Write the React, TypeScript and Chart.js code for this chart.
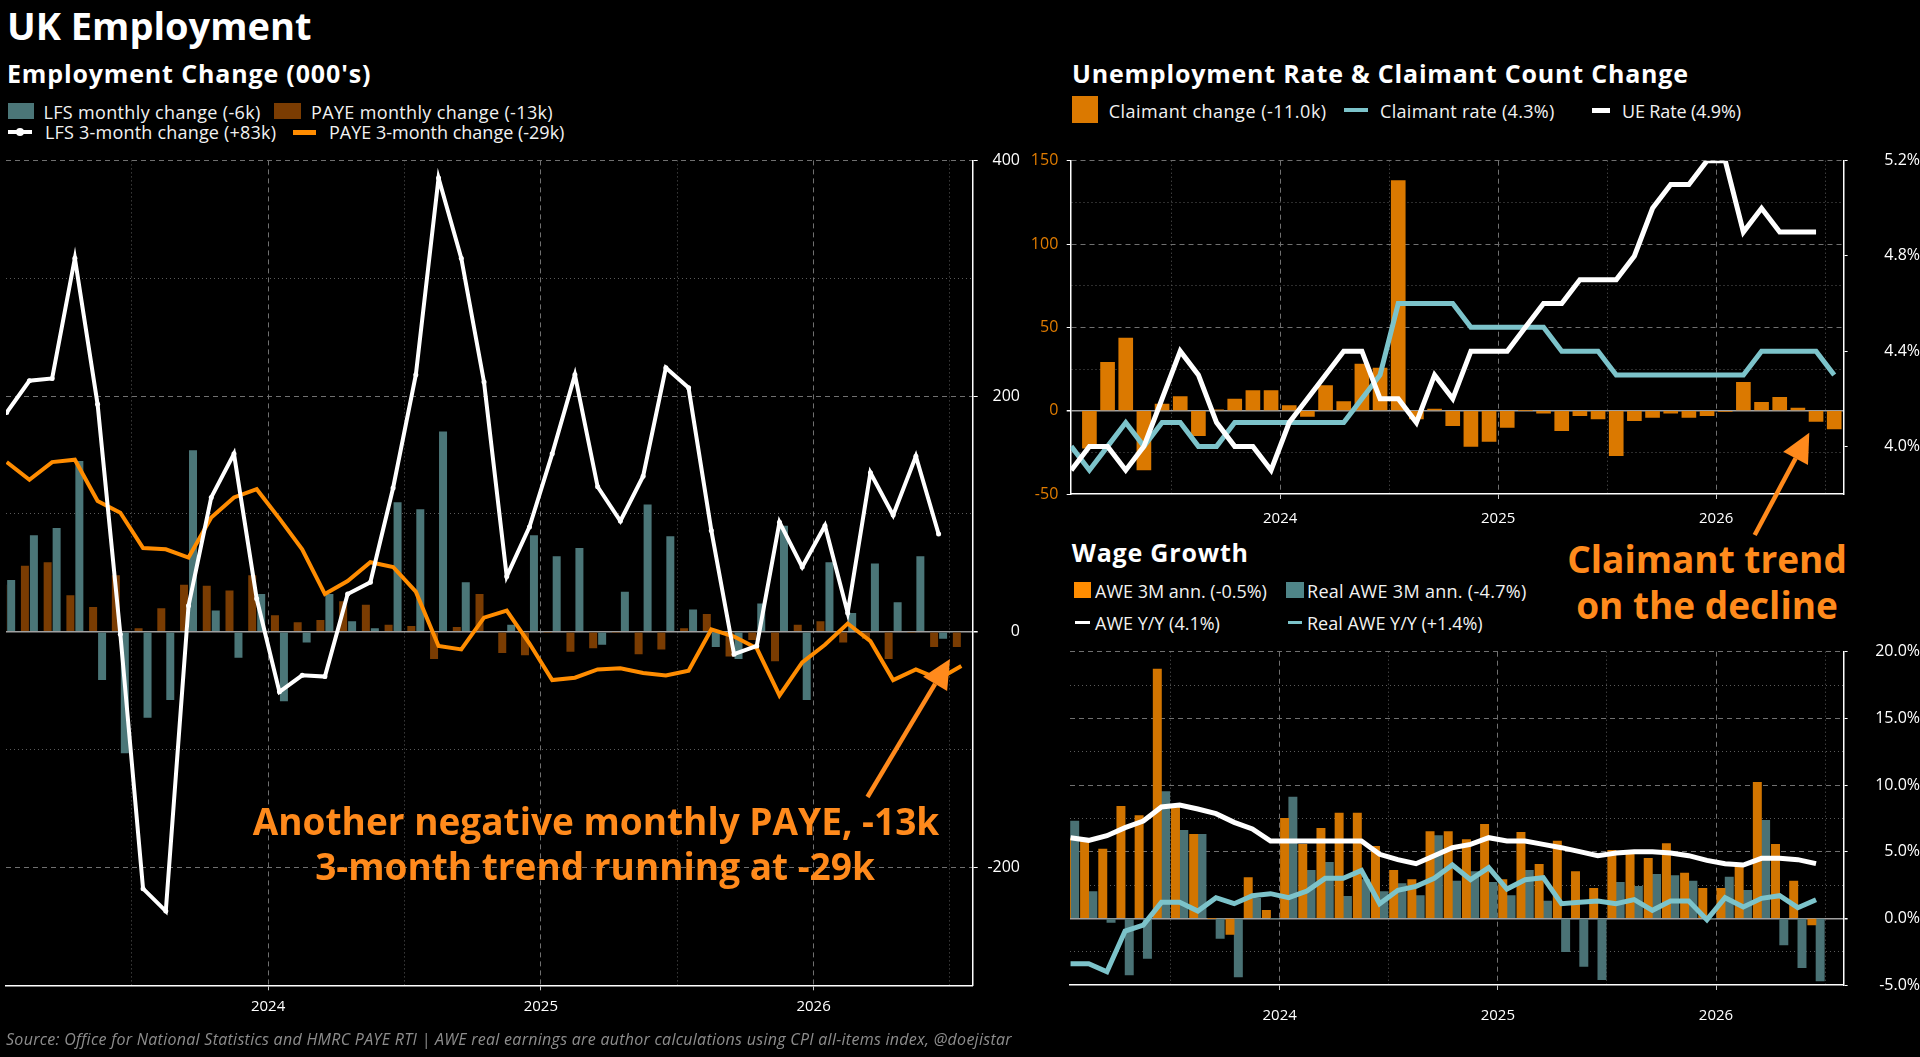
import { useEffect, useRef } from "react"
import { Chart, registerables } from "chart.js"

Chart.register(...registerables)

const FONT = "'Open Sans', 'DejaVu Sans', sans-serif"

// x values are months since 1 Jan 2023, each observation plotted mid-month
const FIRST_YEAR = 2023
const X_MIN = 0.47
const X_MAX = 43
const HALF_YEAR_TICKS = [6, 12, 18, 24, 30, 36, 42]

// Employment change (000's), Jan 2023 onwards
const lfsMonthly = [44, 82, 88, 145, -41, -103, -73, -58, 154, 18, -22, 32, -59, -9, 32, 9, 3, 110, 104, 170, 42, 0, 6, 82, 64, 71, -11, 34, 108, 81, 19, -13, -23, 24, 90, -58, 59, 16, 58, 25, 64, -6]
const payeMonthly = [40, 56, 59, 31, 21, 48, 3, 20, 40, 39, 35, 48, 14, 8, 10, 26, 23, 6, 5, -23, 4, 32, -18, -20, -1, -17, -14, -1, -19, -15, 3, 15, -21, -7, -25, 6, 9, -9, -6, -23, -1, -13, -13]
const lfs3m = [186, 213, 215, 317, 193, -2, -218, -237, 22, 114, 151, 28, -51, -37, -38, 32, 42, 122, 218, 385, 317, 212, 47, 89, 151, 218, 123, 94, 132, 224, 207, 86, -19, -12, 93, 55, 90, 16, 135, 99, 149, 83]
const paye3m = [144, 129, 144, 146, 111, 101, 71, 70, 63, 97, 114, 121, 96, 70, 32, 43, 59, 55, 34, -12, -15, 12, 18, -10, -41, -39, -32, -31, -35, -37, -33, 2, -4, -14, -54, -26, -11, 7, -8, -41, -32, -40, -29]

// Unemployment rate & claimant count
const claimantChange = [null, -22.5, 29, 43.5, -35.5, 4, 8.5, -15, 0.5, 7, 12, 12, 3, -3.5, 15, 5.5, 28, 25.5, 138, -5, 1, -9, -21.5, -18.5, -10, 0, -1.5, -12, -3, -5, -27, -6, -4, -1.5, -4, -3, -0.5, 17, 5, 8, 1.5, -6.5, -11]
const claimantRate = [4.0, 3.9, 4.0, 4.1, 4.0, 4.1, 4.1, 4.0, 4.0, 4.1, 4.1, 4.1, 4.1, 4.1, 4.1, 4.1, 4.2, 4.3, 4.6, 4.6, 4.6, 4.6, 4.5, 4.5, 4.5, 4.5, 4.5, 4.4, 4.4, 4.4, 4.3, 4.3, 4.3, 4.3, 4.3, 4.3, 4.3, 4.3, 4.4, 4.4, 4.4, 4.4, 4.3]
const ueRate = [3.9, 4.0, 4.0, 3.9, 4.0, 4.2, 4.4, 4.3, 4.1, 4.0, 4.0, 3.9, 4.1, 4.2, 4.3, 4.4, 4.4, 4.2, 4.2, 4.1, 4.3, 4.2, 4.4, 4.4, 4.4, 4.5, 4.6, 4.6, 4.7, 4.7, 4.7, 4.8, 5.0, 5.1, 5.1, 5.2, 5.2, 4.9, 5.0, 4.9, 4.9, 4.9]
const rateTicks = [4.0, 4.4, 4.8, 5.2]

// Wage growth (%)
const aweAnn = [6.0, 5.8, 5.2, 8.4, 7.7, 18.7, 8.4, 6.3, 0, -1.2, 3.05, 0.6, 7.5, 5.55, 6.75, 7.9, 7.9, 5.4, 3.6, 2.9, 6.5, 6.5, 5.9, 7.05, 2.9, 6.45, 4.05, 5.8, 3.5, 2.25, 5.1, 5.0, 4.5, 5.6, 3.4, 2.25, 2.25, 4.05, 10.2, 5.55, 2.8, -0.5]
const realAweAnn = [7.3, 2.0, -0.3, -4.25, -3.0, 9.5, 6.6, 6.3, -1.5, -4.4, 1.5, 0, 9.1, 3.6, 4.2, 1.65, 2.9, 2.0, 2.6, 1.7, 6.2, 2.8, 3.5, 2.7, 1.7, 3.6, 1.3, -2.5, -3.6, -4.6, 2.7, 2.4, 3.3, 3.2, 2.8, 0, 3.1, 2.1, 7.35, -2.0, -3.7, -4.7]
const aweYoY = [6.05, 5.85, 6.2, 6.8, 7.3, 8.35, 8.5, 8.2, 7.85, 7.2, 6.7, 5.8, 5.8, 5.8, 5.8, 5.8, 5.8, 4.8, 4.4, 4.1, 4.7, 5.3, 5.55, 6.05, 5.8, 5.8, 5.55, 5.3, 5.0, 4.7, 4.9, 5.0, 5.0, 4.9, 4.7, 4.35, 4.1, 4.0, 4.5, 4.5, 4.4, 4.1]
const realAweYoY = [-3.4, -3.4, -4.0, -0.95, -0.5, 1.2, 1.2, 0.55, 1.55, 1.1, 1.7, 1.85, 1.55, 2.05, 3.0, 3.0, 3.6, 1.1, 2.1, 2.4, 3.0, 4.0, 2.9, 3.8, 2.2, 2.9, 3.05, 1.1, 1.2, 1.3, 1.1, 1.4, 0.6, 1.3, 1.3, -0.1, 1.55, 0.85, 1.5, 1.7, 0.8, 1.4]

const GRID_MAJOR = "#707070"
const GRID_MINOR = "#5a5a5a"
const ZERO_LINE = "#a0a0a0"
const DASH = [5, 4]
const DOT = [1, 3]
const ORANGE_NOTE = "#ff8a1c"

const months = (vals: (number | null)[]) => vals.map((y, i) => ({ x: i + 0.5, y }))
const isMultiple = (v: number, m: number) => Math.abs(v / m - Math.round(v / m)) < 1e-6
const isYearStart = (c: any) => !!c.tick && c.tick.value % 12 === 0

function timeAxis(labelPadding: number, axisHeight: number) {
  return {
    type: "linear",
    min: X_MIN,
    max: X_MAX,
    offset: false,
    afterBuildTicks: (s: any) => {
      s.ticks = HALF_YEAR_TICKS.map((value) => ({ value }))
    },
    afterFit: (s: any) => {
      s.height = axisHeight
      s.paddingLeft = 0
      s.paddingRight = 0
    },
    ticks: {
      autoSkip: false,
      maxRotation: 0,
      minRotation: 0,
      padding: labelPadding,
      color: "#fff",
      font: { family: FONT, size: 15 },
      callback: (v: number) => (v % 12 === 0 ? String(FIRST_YEAR + v / 12) : ""),
    },
    grid: {
      offset: false,
      color: (c: any) => (isYearStart(c) ? GRID_MAJOR : GRID_MINOR),
      tickColor: (c: any) => (isYearStart(c) ? "#c8c8c8" : "transparent"),
      tickLength: 5,
    },
    border: { color: "#fff", width: 1.5, dash: (c: any) => (isYearStart(c) ? DASH : DOT) },
  }
}

// value axis that also owns the horizontal grid
function gridAxis(o: any) {
  const labelled = (c: any) => !!c.tick && isMultiple(c.tick.value, o.major)
  return {
    position: o.position,
    min: o.min,
    max: o.max,
    afterFit: (s: any) => {
      s.width = o.width
      s.paddingTop = 0
      s.paddingBottom = 0
    },
    ticks: {
      stepSize: o.step,
      padding: o.padding,
      crossAlign: o.crossAlign,
      color: o.labelColor,
      font: { family: FONT, size: 16 },
      callback: (v: number) => (isMultiple(v, o.major) ? o.format(v) : ""),
    },
    grid: {
      color: (c: any) => {
        const v = c.tick?.value
        if (v === 0) return ZERO_LINE
        if (v === o.min) return "transparent"
        return labelled(c) ? GRID_MAJOR : GRID_MINOR
      },
      lineWidth: (c: any) => (c.tick?.value === 0 ? 1.5 : 1),
      tickColor: (c: any) => (labelled(c) ? "#fff" : "transparent"),
      tickLength: o.tickLength,
    },
    border: {
      color: "#fff",
      width: 1.5,
      dash: (c: any) => (c.tick?.value === 0 ? [] : labelled(c) ? DASH : DOT),
    },
  }
}

const common = {
  animation: false,
  responsive: false,
  events: [],
  plugins: { legend: { display: false }, tooltip: { enabled: false } },
}

function employmentConfig(): any {
  return {
    type: "line",
    data: {
      datasets: [
        { type: "line", label: "LFS 3-month change (+83k)", data: months(lfs3m), borderColor: "#fff", backgroundColor: "#fff", borderWidth: 4, pointRadius: 2.5, pointBorderWidth: 0, order: 0 },
        { type: "line", label: "PAYE 3-month change (-29k)", data: months(paye3m), borderColor: "#ff8c00", borderWidth: 4, pointRadius: 0, order: 1 },
        { type: "bar", label: "PAYE monthly change (-13k)", data: months(payeMonthly), backgroundColor: "#7a3c02", categoryPercentage: 0.79, barPercentage: 0.89, order: 2 },
        { type: "bar", label: "LFS monthly change (-6k)", data: months(lfsMonthly), backgroundColor: "#4b7678", categoryPercentage: 0.79, barPercentage: 0.89, order: 3 },
      ],
    },
    options: {
      ...common,
      layout: { padding: { left: 6, top: 10.4, right: 0, bottom: 0 } },
      scales: {
        x: timeAxis(7, 34.7),
        y: gridAxis({ position: "right", min: -300, max: 400, step: 100, major: 200, width: 47.3, padding: 8, tickLength: 5, crossAlign: "far", labelColor: "#fff", format: (v: number) => String(v) }),
      },
    },
  }
}

function unemploymentConfig(): any {
  return {
    type: "line",
    data: {
      datasets: [
        { type: "line", label: "UE Rate (4.9%)", data: months(ueRate), yAxisID: "y1", borderColor: "#fff", borderWidth: 5, pointRadius: 0, order: 0 },
        { type: "line", label: "Claimant rate (4.3%)", data: months(claimantRate), yAxisID: "y1", borderColor: "#7cc3ca", borderWidth: 5, pointRadius: 0, order: 1 },
        { type: "bar", label: "Claimant change (-11.0k)", data: months(claimantChange), yAxisID: "y", backgroundColor: "#db7900", barThickness: 14, order: 2 },
      ],
    },
    options: {
      ...common,
      layout: { padding: { left: 0, top: 10.7, right: 0, bottom: 0 } },
      scales: {
        x: timeAxis(11, 36),
        y: gridAxis({ position: "left", min: -50, max: 150, step: 25, major: 50, width: 50.7, padding: 8.4, tickLength: 4, crossAlign: "near", labelColor: "#e07c00", format: (v: number) => String(v) }),
        y1: {
          position: "right",
          min: 3.8,
          max: 5.2,
          afterBuildTicks: (s: any) => {
            s.ticks = rateTicks.map((value) => ({ value }))
          },
          afterFit: (s: any) => {
            s.width = 76.7
            s.paddingTop = 0
            s.paddingBottom = 0
          },
          ticks: { padding: 17.4, crossAlign: "far", color: "#fff", font: { family: FONT, size: 16 }, callback: (v: number) => v.toFixed(1) + "%" },
          grid: { drawOnChartArea: false, tickColor: "#fff", tickLength: 4.3 },
          border: { color: "#fff", width: 1.5 },
        },
      },
    },
  }
}

function wageConfig(): any {
  return {
    type: "line",
    data: {
      datasets: [
        { type: "line", label: "AWE Y/Y (4.1%)", data: months(aweYoY), borderColor: "#fff", borderWidth: 5, pointRadius: 0, order: 0 },
        { type: "line", label: "Real AWE Y/Y (+1.4%)", data: months(realAweYoY), borderColor: "#7cc3ca", borderWidth: 5, pointRadius: 0, order: 1 },
        { type: "bar", label: "AWE 3M ann. (-0.5%)", data: months(aweAnn), backgroundColor: "#d27500", barThickness: 8.3, order: 2 },
        { type: "bar", label: "Real AWE 3M ann. (-4.7%)", data: months(realAweAnn), backgroundColor: "#4a7275", barThickness: 8.3, order: 3 },
      ],
    },
    options: {
      ...common,
      layout: { padding: { left: 50, top: 11.7, right: 0, bottom: 0 } },
      scales: {
        x: timeAxis(16.5, 45),
        y: gridAxis({ position: "right", min: -5, max: 20, step: 2.5, major: 5, width: 76.7, padding: 8.3, tickLength: 4.3, crossAlign: "far", labelColor: "#fff", format: (v: number) => v.toFixed(1) + "%" }),
      },
    },
  }
}

function ChartBox({ left, top, width, height, build }: any) {
  const ref = useRef<HTMLCanvasElement>(null)
  useEffect(() => {
    if (!ref.current) return
    const chart = new Chart(ref.current, build())
    return () => chart.destroy()
  }, [build])
  return <canvas ref={ref} width={width} height={height} style={{ position: "absolute", left, top, width, height }} />
}

// Open Sans: baseline sits 0.888em below the top of a line-height:1 box
const BASELINE = 0.888

function Label({ text, x, baseline, size, weight = 400, color = "#f2f2f2", center = false, italic = false, spacing = 0 }: any) {
  return (
    <div
      style={{
        position: "absolute",
        left: x,
        top: baseline - BASELINE * size,
        fontSize: size,
        lineHeight: `${size}px`,
        fontWeight: weight,
        fontStyle: italic ? "italic" : "normal",
        letterSpacing: spacing,
        color,
        whiteSpace: "nowrap",
        transform: center ? "translateX(-50%)" : undefined,
      }}
    >
      {text}
    </div>
  )
}

function Box({ x, y, w, h, color }: any) {
  return <div style={{ position: "absolute", left: x, top: y, width: w, height: h, background: color }} />
}

function LineKey({ x1, x2, y, thick, color, marker = false }: any) {
  return (
    <>
      <div style={{ position: "absolute", left: x1, top: y - thick / 2, width: x2 - x1, height: thick, background: color }} />
      {marker && <div style={{ position: "absolute", left: (x1 + x2) / 2 - 4, top: y - 4, width: 8, height: 8, borderRadius: 4, background: color }} />}
    </>
  )
}

function Arrow({ from, to }: any) {
  const dx = to[0] - from[0]
  const dy = to[1] - from[1]
  const len = Math.hypot(dx, dy)
  const ux = dx / len
  const uy = dy / len
  const headLen = 29
  const half = 14
  const bx = to[0] - ux * headLen
  const by = to[1] - uy * headLen
  const pts = `${to[0]},${to[1]} ${bx - uy * half},${by + ux * half} ${bx + uy * half},${by - ux * half}`
  return (
    <>
      <line x1={from[0]} y1={from[1]} x2={bx} y2={by} stroke={ORANGE_NOTE} strokeWidth={4.5} />
      <polygon points={pts} fill={ORANGE_NOTE} />
    </>
  )
}

export default function App() {
  useEffect(() => {
    document.body.style.margin = "0"
    document.body.style.background = "#000"
  }, [])

  return (
    <div style={{ position: "relative", width: 1920, height: 1057, background: "#000", overflow: "hidden", fontFamily: FONT }}>
      <ChartBox left={0} top={150} width={1020} height={870} build={employmentConfig} />
      <ChartBox left={1020} top={150} width={900} height={380} build={unemploymentConfig} />
      <ChartBox left={1020} top={640} width={900} height={390} build={wageConfig} />

      <Label text="UK Employment" x={7} baseline={40} size={38} weight={700} color="#fff" />

      <Label text="Employment Change (000's)" x={7} baseline={82.7} size={25} weight={700} color="#fff" spacing={0.85} />
      <Box x={7.6} y={102.7} w={26.5} h={16} color="#4b7678" />
      <Label text="LFS monthly change (-6k)" x={43.4} baseline={119} size={18} spacing={0.35} />
      <Box x={274} y={102.7} w={27} h={16} color="#7a3c02" />
      <Label text="PAYE monthly change (-13k)" x={311} baseline={119} size={18} spacing={0.35} />
      <LineKey x1={7.6} x2={31.6} y={132} thick={4} color="#fff" marker />
      <Label text="LFS 3-month change (+83k)" x={45} baseline={139} size={18} spacing={0.2} />
      <LineKey x1={293} x2={316} y={132} thick={5} color="#ff8c00" />
      <Label text="PAYE 3-month change (-29k)" x={329} baseline={139} size={18} />

      <Label text="Unemployment Rate & Claimant Count Change" x={1072} baseline={82.7} size={25} weight={700} color="#fff" spacing={0.8} />
      <Box x={1072} y={96} w={25.5} h={27} color="#db7900" />
      <Label text="Claimant change (-11.0k)" x={1108.7} baseline={118.3} size={18} spacing={0.5} />
      <LineKey x1={1344} x2={1368} y={110} thick={4} color="#7cc3ca" />
      <Label text="Claimant rate (4.3%)" x={1380} baseline={118.3} size={18} spacing={0.3} />
      <LineKey x1={1592} x2={1610} y={110} thick={5} color="#fff" />
      <Label text="UE Rate (4.9%)" x={1622} baseline={118.3} size={18} spacing={-0.15} />

      <Label text="Wage Growth" x={1071.7} baseline={561.7} size={25} weight={700} color="#fff" spacing={0.8} />
      <Box x={1074} y={581.7} w={17} h={16} color="#ff8c00" />
      <Label text="AWE 3M ann. (-0.5%)" x={1095} baseline={598.3} size={18} />
      <Box x={1286} y={581.7} w={18} h={16} color="#4f8588" />
      <Label text="Real AWE 3M ann. (-4.7%)" x={1307} baseline={598.3} size={18} spacing={0.3} />
      <LineKey x1={1075} x2={1090} y={622.7} thick={3} color="#fff" />
      <Label text="AWE Y/Y (4.1%)" x={1095} baseline={630} size={18} />
      <LineKey x1={1287.7} x2={1302} y={622.7} thick={3} color="#7cc3ca" />
      <Label text="Real AWE Y/Y (+1.4%)" x={1307} baseline={630} size={18} />

      <Label text="Another negative monthly PAYE, -13k" x={596} baseline={835} size={37} weight={700} color={ORANGE_NOTE} center />
      <Label text="3-month trend running at -29k" x={595} baseline={880} size={37} weight={700} color={ORANGE_NOTE} center />
      <Label text="Claimant trend" x={1707} baseline={573.3} size={37} weight={700} color={ORANGE_NOTE} center />
      <Label text="on the decline" x={1707} baseline={619} size={37} weight={700} color={ORANGE_NOTE} center />

      <svg width={1920} height={1057} style={{ position: "absolute", left: 0, top: 0, pointerEvents: "none" }}>
        <Arrow from={[867.5, 797]} to={[950, 659]} />
        <Arrow from={[1754.7, 535]} to={[1809.3, 432.7]} />
      </svg>

      <Label
        text="Source: Office for National Statistics and HMRC PAYE RTI  |  AWE real earnings are author calculations using CPI all-items index, @doejistar"
        x={6}
        baseline={1045}
        size={16}
        italic
        spacing={0.28}
        color="#8d8d8d"
      />
    </div>
  )
}
